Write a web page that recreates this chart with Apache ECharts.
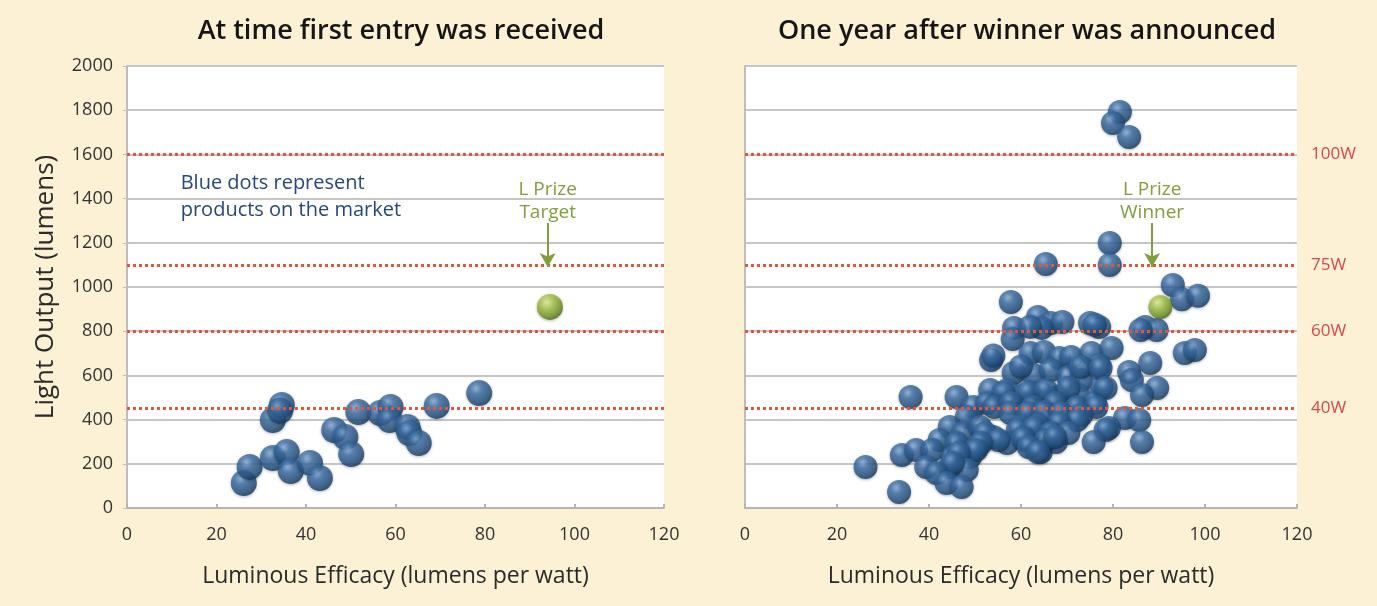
<!DOCTYPE html>
<html>
<head>
<meta charset="utf-8">
<script src="https://cdn.jsdelivr.net/npm/echarts@6/dist/echarts.min.js"></script>
<style>
html,body{margin:0;padding:0;background:#fcf1d4;}
#c{width:1377px;height:606px;}
</style>
</head>
<body>
<div id="c"></div>
<script>
// ---- data ----
const titles = ['At time first entry was received', 'One year after winner was announced'];
const xAxisName = 'Luminous Efficacy (lumens per watt)';
const yAxisName = 'Light Output (lumens)';
const refLevels = [1600, 1100, 800, 450];
const refLabels = ['100W', '75W', '60W', '40W'];

const leftBlue = [
  [26.1,113],[27.4,186],[32.6,226],[32.6,398],[34.6,466],[34.2,440],[35.7,253],[36.6,167],
  [40.9,204],[43.1,136],[46.3,353],[48.8,321],[50.1,244],[51.7,434],[56.6,430],[58.9,457],
  [58.7,398],[62.7,367],[63.1,339],[65.2,294],[69.2,462],[78.7,520]
];
const leftTarget = [[94.5,910]];

const rightBlue = [
  [81.5,1792],[80,1742],[83.5,1679],
  [65.4,1104],[79.3,1199],[79.3,1100],
  [93,1009],[95,945],[98.5,960],
  [57.8,932],[58.5,815],[58.2,765],[63.7,864],[66.5,837],[69,842],[64.5,815],[62,820],[75,837],[77,819],[76,830],[87,819],[89.5,805],[86,805],
  [53.5,670],[54,690],[62.1,701],[65,706],[68.3,679],[70.9,683],[75.3,701],[79.7,724],[76.9,647],[95.6,701],[97.8,715],
  [58.4,611],[62.8,602],[66.5,624],[70.3,593],[73.1,579],[77.5,548],[83.5,615],[88.1,656],[84.1,579],[89.6,543],[86.3,511],[73,638],[77.3,633],[60,640],
  [57,534],[60.6,511],[64.3,520],[68.1,502],[72.5,511],[76,475],[53.3,534],[56.2,520],[61.7,525],[65.4,534],[70.3,543],[78.4,543],
  [36,502],[46,502],[49.6,457],[52.6,475],[54.2,457],[57.9,475],[62.6,457],[67.4,475],[72.2,457],[76.4,457],
  [48.2,412],[57.7,430],[61.5,430],[65,434],[68.7,430],[73.1,421],[82.6,407],[85.7,398],[72.2,398],[68.3,385],[63.7,376],[59.9,367],
  [44.5,367],[47.4,339],[51.1,367],[54,321],[52.2,339],[59.3,353],[62.8,362],[66.5,339],[70.3,339],[79.1,362],[78.4,353],
  [42.3,308],[46,294],[50.4,276],[57,294],[61,308],[64.3,253],[67.6,299],[75.8,299],[86.3,299],[55.1,308],[60.4,317],[65.4,308],[67.4,321],[51.3,294],
  [34.1,240],[37.2,262],[40.7,262],[45.2,231],[48.9,231],[50.2,262],[46.5,249],[61.7,276],[63.7,253],
  [26.2,186],[39.4,186],[44.5,186],[48.2,172],[45.2,204],[41.6,158],
  [43.8,113],[47.1,95],[33.5,72]
];
const rightWinner = [[90.3,910]];

// annotations (data coordinates)
const leftNote = {x: 12, y: 1410, text: 'Blue dots represent\nproducts on the market'};
const leftPrize = {x: 94, y: 1390, text: 'L Prize\nTarget', arrowFrom: 1290, arrowTo: 1090};
const rightPrize = {x: 88.5, y: 1390, text: 'L Prize\nWinner', arrowFrom: 1290, arrowTo: 1090};

// ---- styles ----
const FONT = '"Open Sans", "Noto Sans", sans-serif';
const blueBall = {type:'radial', x:0.38, y:0.32, r:0.68, colorStops:[
  {offset:0, color:'#86afd9'}, {offset:0.35, color:'#3c6ea6'}, {offset:0.8, color:'#23507f'}, {offset:1, color:'#163a60'}]};
const greenBall = {type:'radial', x:0.38, y:0.32, r:0.68, colorStops:[
  {offset:0, color:'#e4f29a'}, {offset:0.4, color:'#a6c444'}, {offset:0.85, color:'#6f8f22'}, {offset:1, color:'#536c17'}]};
const redLine = {color:'#e0573c', type:[3,3], width:3};
const gridLine = {color:'#c6c6c6', width:2};
const green = '#7f9e3c';

function xAxis(idx) {
  return {
    gridIndex: idx, type:'value', min:0, max:120, interval:20,
    name: xAxisName, nameLocation:'middle', nameGap:57,
    nameTextStyle:{fontSize:23, color:'#2a2a2a', fontFamily:FONT},
    axisLine:{show:true, lineStyle:{color:'#b5b5b5', width:2}},
    axisTick:{show:true, inside:true, length:4, lineStyle:{color:'#b5b5b5', width:2}},
    axisLabel:{fontSize:18, color:'#333', margin:18, fontFamily:FONT},
    splitLine:{show:false}
  };
}
function yAxis(idx, showLabels) {
  return {
    gridIndex: idx, type:'value', min:0, max:2000, interval:200,
    name: showLabels ? yAxisName : '', nameLocation:'middle', nameGap:68,
    nameTextStyle:{fontSize:26, color:'#2a2a2a', fontFamily:FONT},
    axisLine:{show:true, lineStyle:{color:'#bdbdbd', width:2}},
    axisTick:{show:showLabels, length:4, lineStyle:{color:'#bdbdbd'}},
    axisLabel:{show:showLabels, fontSize:18, color:'#333', margin:14, fontFamily:FONT,
      formatter: v => String(v)},
    splitLine:{show:true, lineStyle:gridLine}
  };
}

function refSeries(idx, withLabels) {
  return {
    type:'line', xAxisIndex:idx, yAxisIndex:idx, data:[], z:5, silent:true,
    markLine:{
      symbol:['none','none'], silent:true, animation:false,
      lineStyle:redLine,
      label:{show:withLabels, position:'end', distance:14, color:'#d9474a', fontSize:17, fontFamily:FONT,
        formatter: p => refLabels[refLevels.indexOf(p.value)]},
      data: refLevels.map(v => ({yAxis:v}))
    }
  };
}
function ballSeries(idx, data, color, size) {
  return {
    type:'scatter', xAxisIndex:idx, yAxisIndex:idx, data:data, symbolSize:size, z:3,
    itemStyle:{color:color, shadowBlur:3, shadowColor:'rgba(0,0,0,0.35)', shadowOffsetY:1}
  };
}
function prizeSeries(idx, p) {
  return {
    type:'line', xAxisIndex:idx, yAxisIndex:idx, data:[], z:6, silent:true,
    markLine:{
      silent:true, animation:false, symbol:['none','arrow'], symbolSize:[12,14],
      lineStyle:{color:green, type:'solid', width:2},
      label:{show:false},
      data:[[{coord:[p.x, p.arrowFrom]}, {coord:[p.x, p.arrowTo]}]]
    },
    markPoint:{
      silent:true, animation:false, symbol:'circle', symbolSize:0,
      label:{show:true, formatter:p.text, color:green, fontSize:19, lineHeight:23, fontFamily:FONT, align:'center'},
      data:[{coord:[p.x, p.y]}]
    }
  };
}

const chart = echarts.init(document.getElementById('c'), null, {renderer:'canvas'});
chart.setOption({
  backgroundColor:'#fcf1d4',
  animation:false,
  title:[
    {text:titles[0], left:396, top:13, textAlign:'center', textStyle:{fontSize:27, fontWeight:600, color:'#161616', fontFamily:FONT}},
    {text:titles[1], left:1022, top:13, textAlign:'center', textStyle:{fontSize:27, fontWeight:600, color:'#161616', fontFamily:FONT}}
  ],
  grid:[
    {left:127, right:1377-664, top:66, bottom:98, show:true, backgroundColor:'#ffffff', borderWidth:0},
    {left:745, right:1377-1297, top:66, bottom:98, show:true, backgroundColor:'#ffffff', borderWidth:0}
  ],
  xAxis:[xAxis(0), xAxis(1)],
  yAxis:[yAxis(0,true), yAxis(1,false)],
  series:[
    refSeries(0,false),
    refSeries(1,true),
    ballSeries(0, leftBlue, blueBall, 26),
    ballSeries(0, leftTarget, greenBall, 26),
    ballSeries(1, rightBlue, blueBall, 24),
    ballSeries(1, rightWinner, greenBall, 24),
    prizeSeries(0, leftPrize),
    prizeSeries(1, rightPrize),
    {
      type:'line', xAxisIndex:0, yAxisIndex:0, data:[], silent:true,
      markPoint:{
        silent:true, animation:false, symbol:'circle', symbolSize:0,
        label:{show:true, formatter:leftNote.text, color:'#27497a', fontSize:20, lineHeight:27, fontFamily:FONT, align:'left'},
        data:[{coord:[leftNote.x, leftNote.y]}]
      }
    }
  ]
});
</script>
</body>
</html>
